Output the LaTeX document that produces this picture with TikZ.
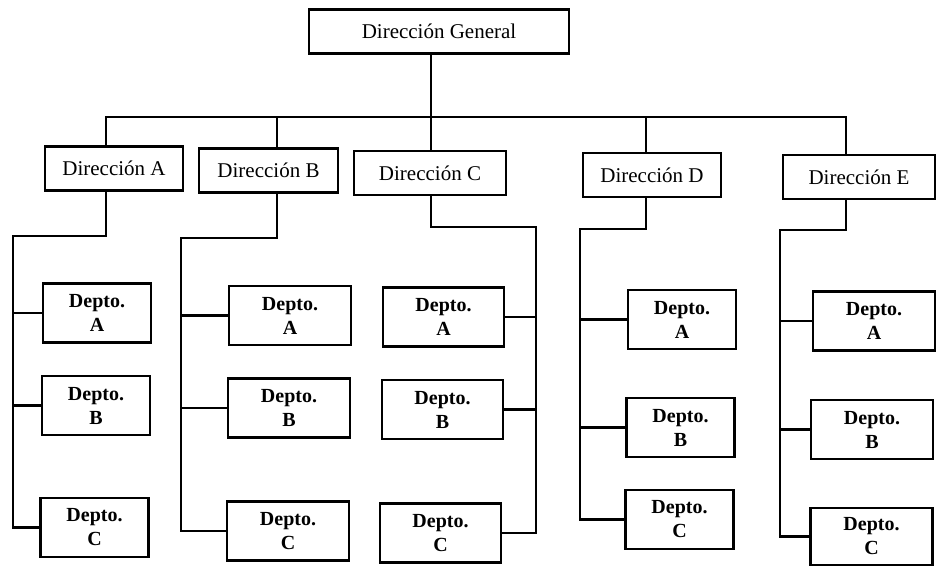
\documentclass[tikz,border=0pt]{standalone}
\usepackage{fontspec}
\setmainfont{Liberation Serif}
\usetikzlibrary{calc}

\begin{document}
\begin{tikzpicture}[x=1pt, y=-1pt, line width=2.4pt,
	dirbox/.style={draw, minimum height=44, inner sep=0pt, font=\fontsize{21}{24}\selectfont},
	deptobox/.style={draw, minimum height=59, inner sep=0pt, align=center, font=\fontsize{20}{24}\selectfont\bfseries}]
	%%%%% START %%%%%
	\useasboundingbox (0,0) rectangle (939,568);
	
	\node[dirbox, minimum width=260] (dg) at (439,31.5) {Dirección General};
	
	\node[dirbox, minimum width=138] (dirA) at (114,168.5) {Dirección A};
	\node[dirbox, minimum width=139] (dirB) at (268.5,170.5) {Dirección B};
	\node[dirbox, minimum width=152] (dirC) at (430,173) {Dirección C};
	\node[dirbox, minimum width=138] (dirD) at (652,175) {Dirección D};
	\node[dirbox, minimum width=152] (dirE) at (859,177) {Dirección E};
	
	\node[deptobox, minimum width=108] (aA) at (97,313) {Depto.\\A};
	\node[deptobox, minimum width=108] (aB) at (96,405.5) {Depto.\\B};
	\node[deptobox, minimum width=108] (aC) at (94.5,527.5) {Depto.\\C};
	
	\node[deptobox, minimum width=122] (bA) at (290,315.5) {Depto.\\A};
	\node[deptobox, minimum width=122] (bB) at (289,408) {Depto.\\B};
	\node[deptobox, minimum width=122] (bC) at (288,531) {Depto.\\C};
	
	\node[deptobox, minimum width=121] (cA) at (443.5,317) {Depto.\\A};
	\node[deptobox, minimum width=121] (cB) at (442.5,409.5) {Depto.\\B};
	\node[deptobox, minimum width=121] (cC) at (440.5,533) {Depto.\\C};
	
	\node[deptobox, minimum width=108] (dA) at (682,319.5) {Depto.\\A};
	\node[deptobox, minimum width=108] (dB) at (680.5,427.5) {Depto.\\B};
	\node[deptobox, minimum width=108] (dC) at (679.5,519.5) {Depto.\\C};
	
	\node[deptobox, minimum width=122] (eA) at (874,321) {Depto.\\A};
	\node[deptobox, minimum width=122] (eB) at (872,429.5) {Depto.\\B};
	\node[deptobox, minimum width=122, minimum height=57] (eC) at (871.5,536.5) {Depto.\\C};
	
	% bus below the general direction
	\coordinate (jA) at (106,117);
	\coordinate (jB) at (277,117);
	\coordinate (jC) at (431,117);
	\coordinate (jD) at (646,117);
	\coordinate (jE) at (846,117);
	\draw (dg.south -| jC) -- (jC |- dirC.north);
	\draw (jA |- dirA.north) -- (jA) -- (jE) -- (jE |- dirE.north);
	\draw (jB) -- (jB |- dirB.north);
	\draw (jD) -- (jD |- dirD.north);
	
	% trunks down to the departments
	\coordinate (kA) at (13,236);
	\draw (jA |- dirA.south) |- (kA) |- (aC.west);
	\draw (kA |- aA.west) -- (aA.west);
	\draw (kA |- aB.west) -- (aB.west);
	
	\coordinate (kB) at (181,238);
	\draw (jB |- dirB.south) |- (kB) |- (bC.west);
	\draw (kB |- bA.west) -- (bA.west);
	\draw (kB |- bB.west) -- (bB.west);
	
	\coordinate (kC) at (536,227);
	\draw (jC |- dirC.south) |- (kC) |- (cC.east);
	\draw (kC |- cA.east) -- (cA.east);
	\draw (kC |- cB.east) -- (cB.east);
	
	\coordinate (kD) at (580,229);
	\draw (jD |- dirD.south) |- (kD) |- (dC.west);
	\draw (kD |- dA.west) -- (dA.west);
	\draw (kD |- dB.west) -- (dB.west);
	
	\coordinate (kE) at (780,230);
	\draw (jE |- dirE.south) |- (kE) |- (eC.west);
	\draw (kE |- eA.west) -- (eA.west);
	\draw (kE |- eB.west) -- (eB.west);
	%%%%% END %%%%%
\end{tikzpicture}
\end{document}
